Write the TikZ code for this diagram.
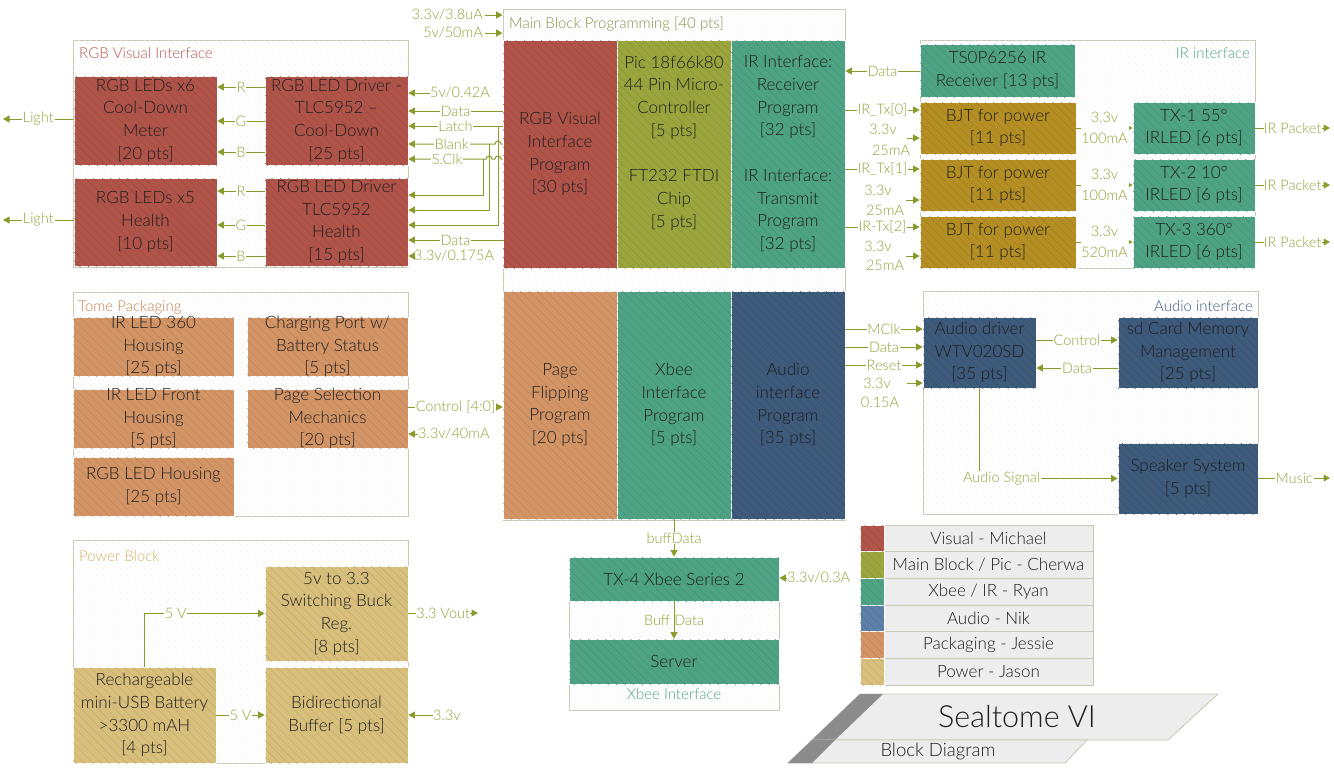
\documentclass[tikz,border=0pt]{standalone}
\usepackage{fontspec}
\IfFontExistsTF{Lato Light}{\setmainfont{Lato Light}}{\setmainfont{Carlito}}
\usetikzlibrary{arrows.meta,fit,patterns.meta}
\definecolor{cVis}{HTML}{B0544A}
\definecolor{cPic}{HTML}{9AA53E}
\definecolor{cIR}{HTML}{4FA385}
\definecolor{cAud}{HTML}{3E5B7C}
\definecolor{cAudL}{HTML}{5E80A8}
\definecolor{cPkg}{HTML}{D39466}
\definecolor{cPwr}{HTML}{D9BF7C}
\definecolor{cBJT}{HTML}{B58F24}
\definecolor{cLine}{HTML}{8A9B2C}
\definecolor{cLbl}{HTML}{93A035}
\definecolor{cFrame}{HTML}{C5C8B2}
\definecolor{cTxt}{HTML}{1E1E1E}
\definecolor{cLeg}{HTML}{EDEDED}
\definecolor{tVis}{HTML}{B4574E}
\definecolor{tMain}{HTML}{8E8F4A}
\definecolor{tPkg}{HTML}{C9834C}
\definecolor{tPwr}{HTML}{D4B36A}
\newcommand\bfnt{\fontsize{17}{22.7}\selectfont}
\newcommand\lfnt{\fontsize{14.5}{20.5}\selectfont}
\newcommand\ttfnt{\fontsize{15}{17}\selectfont}
\tikzset{
  frame/.style={draw=cFrame, line width=0.8pt, fill=white, inner sep=0pt,
    postaction={pattern={Lines[angle=-45,distance=4pt,line width=0.3pt]}, pattern color=black!6}},
  blk/.style={draw=white, line width=0.7pt, fill=#1, inner sep=0pt,
    postaction={pattern={Lines[angle=-45,distance=6pt,line width=0.4pt]}, pattern color=black!12!#1}},
  btxt/.style={font=\bfnt, text=cTxt, align=center, inner sep=0pt},
  lgd/.style={draw=cFrame, line width=0.7pt, fill=cLeg, inner sep=0pt},
  ttl/.style={font=\ttfnt, inner sep=0pt},
  con/.style={draw=cLine, line width=1pt, -{Triangle[length=6.5pt,width=7pt]}},
  scon/.style={draw=cLine, line width=1pt, -{Triangle[length=3.5pt,width=3.5pt]}},
  lbl/.style={font=\lfnt, text=cLbl, fill=white, inner sep=0.8pt, align=center},
  tlbl/.style={font=\lfnt, text=cLbl, inner sep=0pt},
}
\newcommand\bx[7]{\node[blk=#2, fit={(#3,#4) (#5,#6)}] (#1) {};
  \node[btxt] (#1t) at (#1.center) {#7};}
\newcommand\lgrow[5]{\node[lgd, fit={(884,#2) (1093,#3)}] (#1) {};
  \node[btxt] (#1t) at (#1.center) {#5};
  \node[blk=#4, fit={(860,#2) (884,#3)}] (#1s) {};}
\begin{document}
\begin{tikzpicture}[x=1pt,y=-1pt]
\useasboundingbox (0,0) rectangle (1334,772);

% ---------------- containers
\node[frame, fit={(73,40) (408,267)}] (rgbC) {};
\node[ttl, text=tVis, anchor=west] (rgbT) at (79,53) {RGB Visual Interface};
\node[frame, fit={(503,9) (845,520)}] (main) {};
\node[ttl, text=tMain, anchor=west] (mainT) at (509,24) {Main Block Programming [40 pts]};
\node[frame, fit={(920,40) (1255,268)}] (irC) {};
\node[ttl, text=cIR, anchor=east] (irT) at (1250,53) {IR interface};
\node[frame, fit={(73,292) (408,516)}] (pkgC) {};
\node[ttl, text=tPkg, anchor=west] (pkgT) at (78,307) {Tome Packaging};
\node[frame, fit={(923,291) (1258,514)}] (audC) {};
\node[ttl, text=cAud, anchor=east] (audT) at (1253,306) {Audio interface};
\node[frame, fit={(73,540) (408,763)}] (pwrC) {};
\node[ttl, text=tPwr, anchor=west] (pwrT) at (79,556) {Power Block};
\node[frame, fit={(569,557) (779,710)}] (xbC) {};
\node[ttl, text=cIR] (xbT) at (674,694) {Xbee Interface};

% ---------------- RGB visual interface
\bx{ledsA}{cVis}{74}{76}{217}{165}{RGB LEDs x6\\Cool-Down\\Meter\\{[20 pts]}}
\bx{drvA}{cVis}{265}{76}{408}{165}{RGB LED Driver -\\TLC5952 –\\Cool-Down\\{[25 pts]}}
\bx{ledsB}{cVis}{74}{178}{217}{266}{RGB LEDs x5\\Health\\{[10 pts]}}
\bx{drvB}{cVis}{265}{178}{408}{266}{RGB LED Driver\\TLC5952\\Health\\{[15 pts]}}

% ---------------- main block
\bx{rgbP}{cVis}{503}{40}{617}{268}{RGB Visual\\Interface\\Program\\{[30 pts]}}
\node[blk=cPic, fit={(617,40) (731,268)}] (pic) {};
\node[btxt] (picT) at (674,143)
  {Pic 18f66k80\\44 Pin Micro-\\Controller\\{[5 pts]}\\[22.7pt]FT232 FTDI\\Chip\\{[5 pts]}};
\bx{irP}{cIR}{731}{40}{845}{268}{IR Interface:\\Receiver\\Program\\{[32 pts]}\\[22.7pt]IR Interface:\\Transmit\\Program\\{[32 pts]}}
\bx{pageP}{cPkg}{503}{291}{617}{519}{Page\\Flipping\\Program\\{[20 pts]}}
\bx{xbP}{cIR}{617}{291}{731}{519}{Xbee\\Interface\\Program\\{[5 pts]}}
\bx{audP}{cAud}{731}{291}{845}{519}{Audio\\interface\\Program\\{[35 pts]}}

% ---------------- IR interface
\bx{tsop}{cIR}{920}{44}{1075}{97}{TS0P6256 IR\\Receiver [13 pts]}
\bx{bjtA}{cBJT}{920}{102}{1076}{154}{BJT for power\\{[11 pts]}}
\bx{bjtB}{cBJT}{920}{159}{1076}{211}{BJT for power\\{[11 pts]}}
\bx{bjtC}{cBJT}{920}{216}{1076}{268}{BJT for power\\{[11 pts]}}
\bx{txA}{cIR}{1133}{102}{1255}{154}{TX-1 55°\\IRLED [6 pts]}
\bx{txB}{cIR}{1133}{159}{1255}{211}{TX-2 10°\\IRLED [6 pts]}
\bx{txC}{cIR}{1133}{216}{1255}{268}{TX-3 360°\\IRLED [6 pts]}

% ---------------- packaging
\bx{irH}{cPkg}{73}{317}{234}{376}{IR LED 360\\Housing\\{[25 pts]}}
\bx{chg}{cPkg}{247}{317}{408}{376}{Charging Port w/\\Battery Status\\{[5 pts]}}
\bx{irF}{cPkg}{73}{389}{234}{448}{IR LED Front\\Housing\\{[5 pts]}}
\bx{pgs}{cPkg}{247}{389}{408}{448}{Page Selection\\Mechanics\\{[20 pts]}}
\bx{rgbH}{cPkg}{73}{457}{234}{516}{RGB LED Housing\\{[25 pts]}}

% ---------------- audio
\bx{adrv}{cAud}{923}{317}{1036}{388}{Audio driver\\WTV020SD\\{[35 pts]}}
\bx{sd}{cAud}{1118}{317}{1258}{388}{sd Card Memory\\Management\\{[25 pts]}}
\bx{spk}{cAud}{1118}{443}{1258}{514}{Speaker System\\{[5 pts]}}

% ---------------- power
\bx{buck}{cPwr}{265}{566}{408}{661}{5v to 3.3\\Switching Buck\\Reg.\\{[8 pts]}}
\bx{batt}{cPwr}{73}{667}{216}{763}{Rechargeable\\mini-USB Battery\\>3300 mAH\\{[4 pts]}}
\bx{bidir}{cPwr}{265}{667}{408}{763}{Bidirectional\\Buffer [5 pts]}

% ---------------- xbee
\bx{tx4}{cIR}{569}{557}{779}{601}{TX-4 Xbee Series 2}
\bx{server}{cIR}{569}{639}{779}{684}{Server}

% ---------------- legend
\lgrow{lg1}{525}{551.7}{cVis}{Visual - Michael}
\lgrow{lg2}{551.7}{578.3}{cPic}{Main Block / Pic - Cherwa}
\lgrow{lg3}{578.3}{605}{cIR}{Xbee / IR - Ryan}
\lgrow{lg4}{605}{631.7}{cAudL}{Audio - Nik}
\lgrow{lg5}{631.7}{658.3}{cPkg}{Packaging - Jessie}
\lgrow{lg6}{658.3}{685}{cPwr}{Power - Jason}

% ---------------- title banner
\filldraw[fill=cLeg, draw=cFrame, line width=0.8pt] (860,694) -- (1218,694) -- (1168,740) -- (812,740) -- cycle;
\fill[black!45] (860,694) -- (883,694) -- (835,740) -- (812,740) -- cycle;
\filldraw[fill=cLeg, draw=cFrame, line width=0.8pt] (812,740) -- (1087,740) -- (1065,763) -- (788,763) -- cycle;
\fill[black!45] (812,740) -- (835,740) -- (812,763) -- (788,763) -- cycle;
\node[font=\fontsize{30.5}{32}\selectfont, text=cTxt] (bannerA) at (1017,717) {Sealtome VI};
\node[font=\fontsize{18.5}{20}\selectfont, text=cTxt] (bannerB) at (938,751) {Block Diagram};

% ================= connectors
% RGB
\draw[con] (drvA.west|-0,87) -- node[lbl]{R} (ledsA.east|-0,87);
\draw[con] (drvA.west|-0,121) -- node[lbl]{G} (ledsA.east|-0,121);
\draw[con] (drvA.west|-0,152) -- node[lbl]{B} (ledsA.east|-0,152);
\draw[con] (drvB.west|-0,191) -- node[lbl]{R} (ledsB.east|-0,191);
\draw[con] (drvB.west|-0,225) -- node[lbl]{G} (ledsB.east|-0,225);
\draw[con] (drvB.west|-0,256) -- node[lbl]{B} (ledsB.east|-0,256);
\coordinate (lightA) at (3,119);
\coordinate (lightB) at (3,220);
\draw[con] (ledsA.west|-0,119) -- node[lbl]{Light} (lightA);
\draw[con] (ledsB.west|-0,220) -- node[lbl]{Light} (lightB);
\coordinate (p5v) at (430,93);
\draw[con] (p5v) -- (drvA.east|-0,93);
\node[tlbl, anchor=west] (l5v) at (p5v) {5v/0.42A};
\draw[con] (rgbP.west|-0,111) -- node[lbl]{Data} (drvA.east|-0,111);
\draw[con] (rgbP.west|-0,126) -- node[lbl]{Latch} (drvA.east|-0,126);
\draw[con] (rgbP.west|-0,144) -- (501,144) arc[start angle=0,end angle=-180,radius=3]
   -- node[lbl]{Blank} (drvA.east|-0,144);
\draw[con] (rgbP.west|-0,159) -- (501,159) arc[start angle=0,end angle=-180,radius=3]
   -- (492,159) arc[start angle=0,end angle=-180,radius=3]
   -- node[lbl]{S.Clk} (drvA.east|-0,159);
\coordinate (jLa) at (498,126);
\coordinate (jBl) at (489,144);
\coordinate (jSc) at (483,159);
\draw[con] (jLa) |- (drvB.east|-0,225);
\draw[con] (jBl) |- (drvB.east|-0,210);
\draw[con] (jSc) |- (drvB.east|-0,195);
\draw[con] (rgbP.west|-0,240) -- node[lbl]{Data} (drvB.east|-0,240);
\coordinate (p175) at (414,256);
\draw[con] (p175) -- (drvB.east|-0,256);
\node[tlbl, anchor=west] (l175) at (p175) {3.3v/0.175A};

% main block inputs
\coordinate (pm1) at (485,15);
\coordinate (pm2) at (485,33);
\draw[con] (pm1) -- (main.west|-0,15);
\draw[con] (pm2) -- (main.west|-0,33);
\node[tlbl, anchor=east] (lm1) at (483,15) {3.3v/3.8uA};
\node[tlbl, anchor=east] (lm2) at (483,33) {5v/50mA};

% IR
\draw[con] (tsop.west|-0,71) -- node[lbl]{Data} (irP.east|-0,71);
\draw[con] (irP.east|-0,110) -- node[lbl]{IR\_Tx[0]} (bjtA.west|-0,110);
\draw[con] (irP.east|-0,169) -- node[lbl]{IR\_Tx[1]} (bjtB.west|-0,169);
\draw[con] (irP.east|-0,227) -- node[lbl]{IR-Tx[2]} (bjtC.west|-0,227);
\coordinate (pa1) at (907,138);
\coordinate (pa2) at (906,200);
\coordinate (pa3) at (906,256);
\draw[con] (pa1) -- (bjtA.west|-0,138);
\draw[con] (pa2) -- (bjtB.west|-0,200);
\draw[con] (pa3) -- (bjtC.west|-0,256);
\node[tlbl] (v1) at (883,129) {3.3v};
\node[tlbl] (c1) at (891,150) {25mA};
\node[tlbl] (v2) at (878,190) {3.3v};
\node[tlbl] (c2) at (885,210) {25mA};
\node[tlbl] (v3) at (878,246) {3.3v};
\node[tlbl] (c3) at (885,265) {25mA};
\draw[scon] (bjtA.east) -- node[lbl]{3.3v\\100mA} (txA.west);
\draw[scon] (bjtB.east) -- node[lbl]{3.3v\\100mA} (txB.west);
\draw[scon] (bjtC.east) -- node[lbl]{3.3v\\520mA} (txC.west);
\coordinate (oA) at (1330,128);
\coordinate (oB) at (1330,185);
\coordinate (oC) at (1330,242);
\draw[con] (txA.east) -- node[lbl,inner sep=0.3pt]{IR Packet} (oA);
\draw[con] (txB.east) -- node[lbl,inner sep=0.3pt]{IR Packet} (oB);
\draw[con] (txC.east) -- node[lbl,inner sep=0.3pt]{IR Packet} (oC);

% packaging
\draw[con] (pgs.east|-0,407) -- node[lbl,inner sep=0.3pt]{Control [4:0]} (pageP.west|-0,407);
\coordinate (p40) at (418,434);
\draw[con] (p40) -- (pgs.east|-0,434);
\node[tlbl, anchor=west] (l40) at (p40) {3.3v/40mA};

% audio
\draw[con] (audP.east|-0,329) -- node[lbl]{MClk} (adrv.west|-0,329);
\draw[con] (audP.east|-0,347) -- node[lbl]{Data} (adrv.west|-0,347);
\draw[con] (audP.east|-0,365) -- node[lbl]{Reset} (adrv.west|-0,365);
\coordinate (pau) at (907,383);
\draw[con] (pau) -- (adrv.west|-0,383);
\node[tlbl] (va) at (877,383) {3.3v};
\node[tlbl] (ca) at (880,402) {0.15A};
\draw[con] (adrv.east|-0,340) -- node[lbl]{Control} (sd.west|-0,340);
\draw[con] (sd.west|-0,368) -- node[lbl]{Data} (adrv.east|-0,368);
\draw[con] (adrv.south) |- node[lbl,pos=0.58]{Audio Signal} (spk.west);
\coordinate (oM) at (1330,478);
\draw[con] (spk.east|-0,478) -- node[lbl]{Music} (oM);

% power
\draw[con] (batt.north) |- node[lbl,pos=0.63]{5 V} (buck.west);
\draw[con] (batt.east) -- node[lbl]{5 V} (bidir.west);
\coordinate (oV) at (478,613);
\draw[con] (buck.east|-0,613) -- node[lbl,inner sep=0.3pt]{3.3 Vout} (oV);
\coordinate (p33) at (433,715);
\draw[con] (p33) -- (bidir.east|-0,715);
\node[tlbl, anchor=west] (l33) at (p33) {3.3v};

% xbee
\draw[con] (xbP.south) -- node[lbl]{buffData} (tx4.north);
\draw[con] (tx4.south) -- node[lbl,fill=none]{Buff Data} (server.north);
\coordinate (p03) at (787,578);
\draw[con] (p03) -- (tx4.east|-0,578);
\node[tlbl, anchor=west] (l03) at (p03) {3.3v/0.3A};
\end{tikzpicture}
\end{document}
